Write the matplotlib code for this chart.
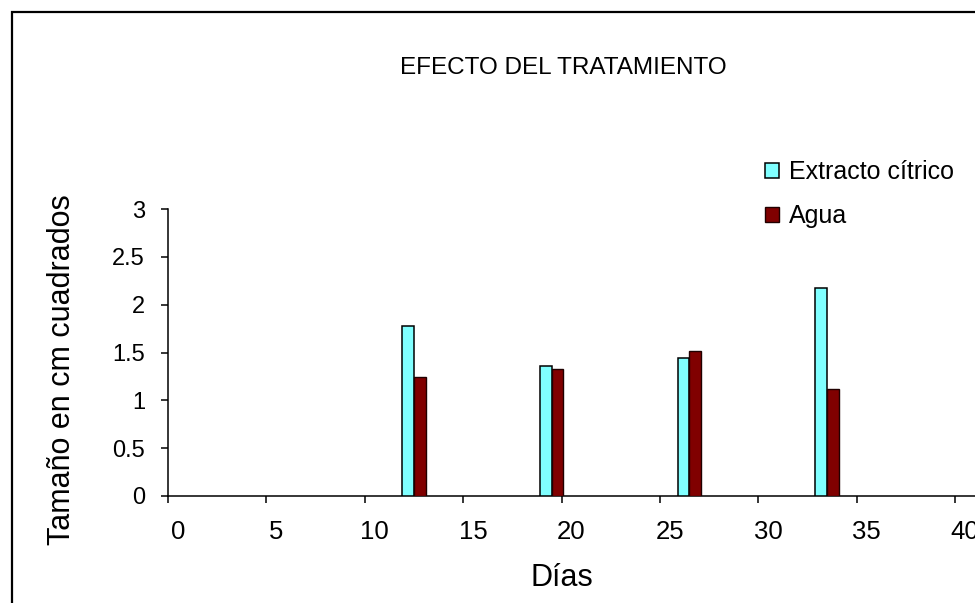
import matplotlib.pyplot as plt
import matplotlib.patches as mpatches
import matplotlib.transforms as mtransforms
import numpy as np

plt.rcParams['font.family'] = ['Liberation Sans', 'DejaVu Sans']

# medidas por dia (cm^2)
dias = [12, 19, 26, 33]
extracto = [1.78, 1.36, 1.44, 2.17]
agua = [1.24, 1.33, 1.52, 1.12]
xticks = [0, 5, 10, 15, 20, 25, 30, 35, 40]
yticks = [0, 0.5, 1, 1.5, 2, 2.5, 3]

W, H = 975, 603
fig = plt.figure(figsize=(W / 100, H / 100), dpi=100)

# marco exterior (cortado a la derecha y abajo)
marco = mpatches.Rectangle((12 / W, -0.1), 1.2, 1 - 12 / H + 0.1,
                           transform=fig.transFigure, fill=False,
                           edgecolor='black', linewidth=1.6, clip_on=False)
fig.patches.append(marco)

# eje: 0 en x=168px, 19.675 px por dia; y de 496px (0) a 209px (3)
px_dia = 19.675
xmax = 45
ax = fig.add_axes([168 / W, 1 - 496 / H, xmax * px_dia / W, 287 / H])

x = np.array(dias, dtype=float)
ancho = 0.6
ax.bar(x + 0.2, extracto, width=ancho, color='#80FFFF', edgecolor='black',
       linewidth=1.1, label='Extracto cítrico', zorder=3)
ax.bar(x + 0.8, agua, width=ancho, color='#800000', edgecolor='#200000',
       linewidth=1.0, label='Agua', zorder=3)

ax.set_xlim(0, xmax)
ax.set_ylim(0, 3)
ax.set_xticks(xticks)
ax.set_yticks(yticks)
ax.set_xticklabels([str(v) for v in xticks])
ax.set_yticklabels(['0', '0.5', '1', '1.5', '2', '2.5', '3'])

for lado in ['top', 'right']:
    ax.spines[lado].set_visible(False)
for lado in ['left', 'bottom']:
    ax.spines[lado].set_linewidth(1.1)

ax.tick_params(axis='x', direction='out', length=5, width=1.1, pad=12.5,
               labelsize=18.5, colors='black')
ax.tick_params(axis='y', direction='out', length=5, width=1.1, pad=11.5,
               labelsize=17, colors='black')

# las etiquetas del eje x van un poco desplazadas a la derecha
desplaza = mtransforms.ScaledTranslation(10 / 100, 0, fig.dpi_scale_trans)
for etiqueta in ax.get_xticklabels():
    etiqueta.set_transform(etiqueta.get_transform() + desplaza)

ax.set_xlabel('Días', fontsize=22)
ax.xaxis.set_label_coords(562 / W, 1 - 586 / H, transform=fig.transFigure)
ax.xaxis.label.set_verticalalignment('baseline')

ax.set_ylabel('Tamaño en cm cuadrados', fontsize=22)
ax.yaxis.set_label_coords(62 / W, 1 - 370 / H, transform=fig.transFigure)
ax.yaxis.label.set_verticalalignment('center')

fig.text(563 / W, 1 - 74 / H, 'EFECTO DEL TRATAMIENTO', fontsize=17.5,
         ha='center', va='baseline')

ax.legend(loc='upper left', bbox_to_anchor=(765 / W, 1 - 160 / H),
          bbox_transform=fig.transFigure, frameon=False, fontsize=18,
          handlelength=0.55, handleheight=0.55, handletextpad=0.4,
          labelspacing=0.8, borderpad=0, borderaxespad=0)

fig.savefig('out.png', dpi=100)
